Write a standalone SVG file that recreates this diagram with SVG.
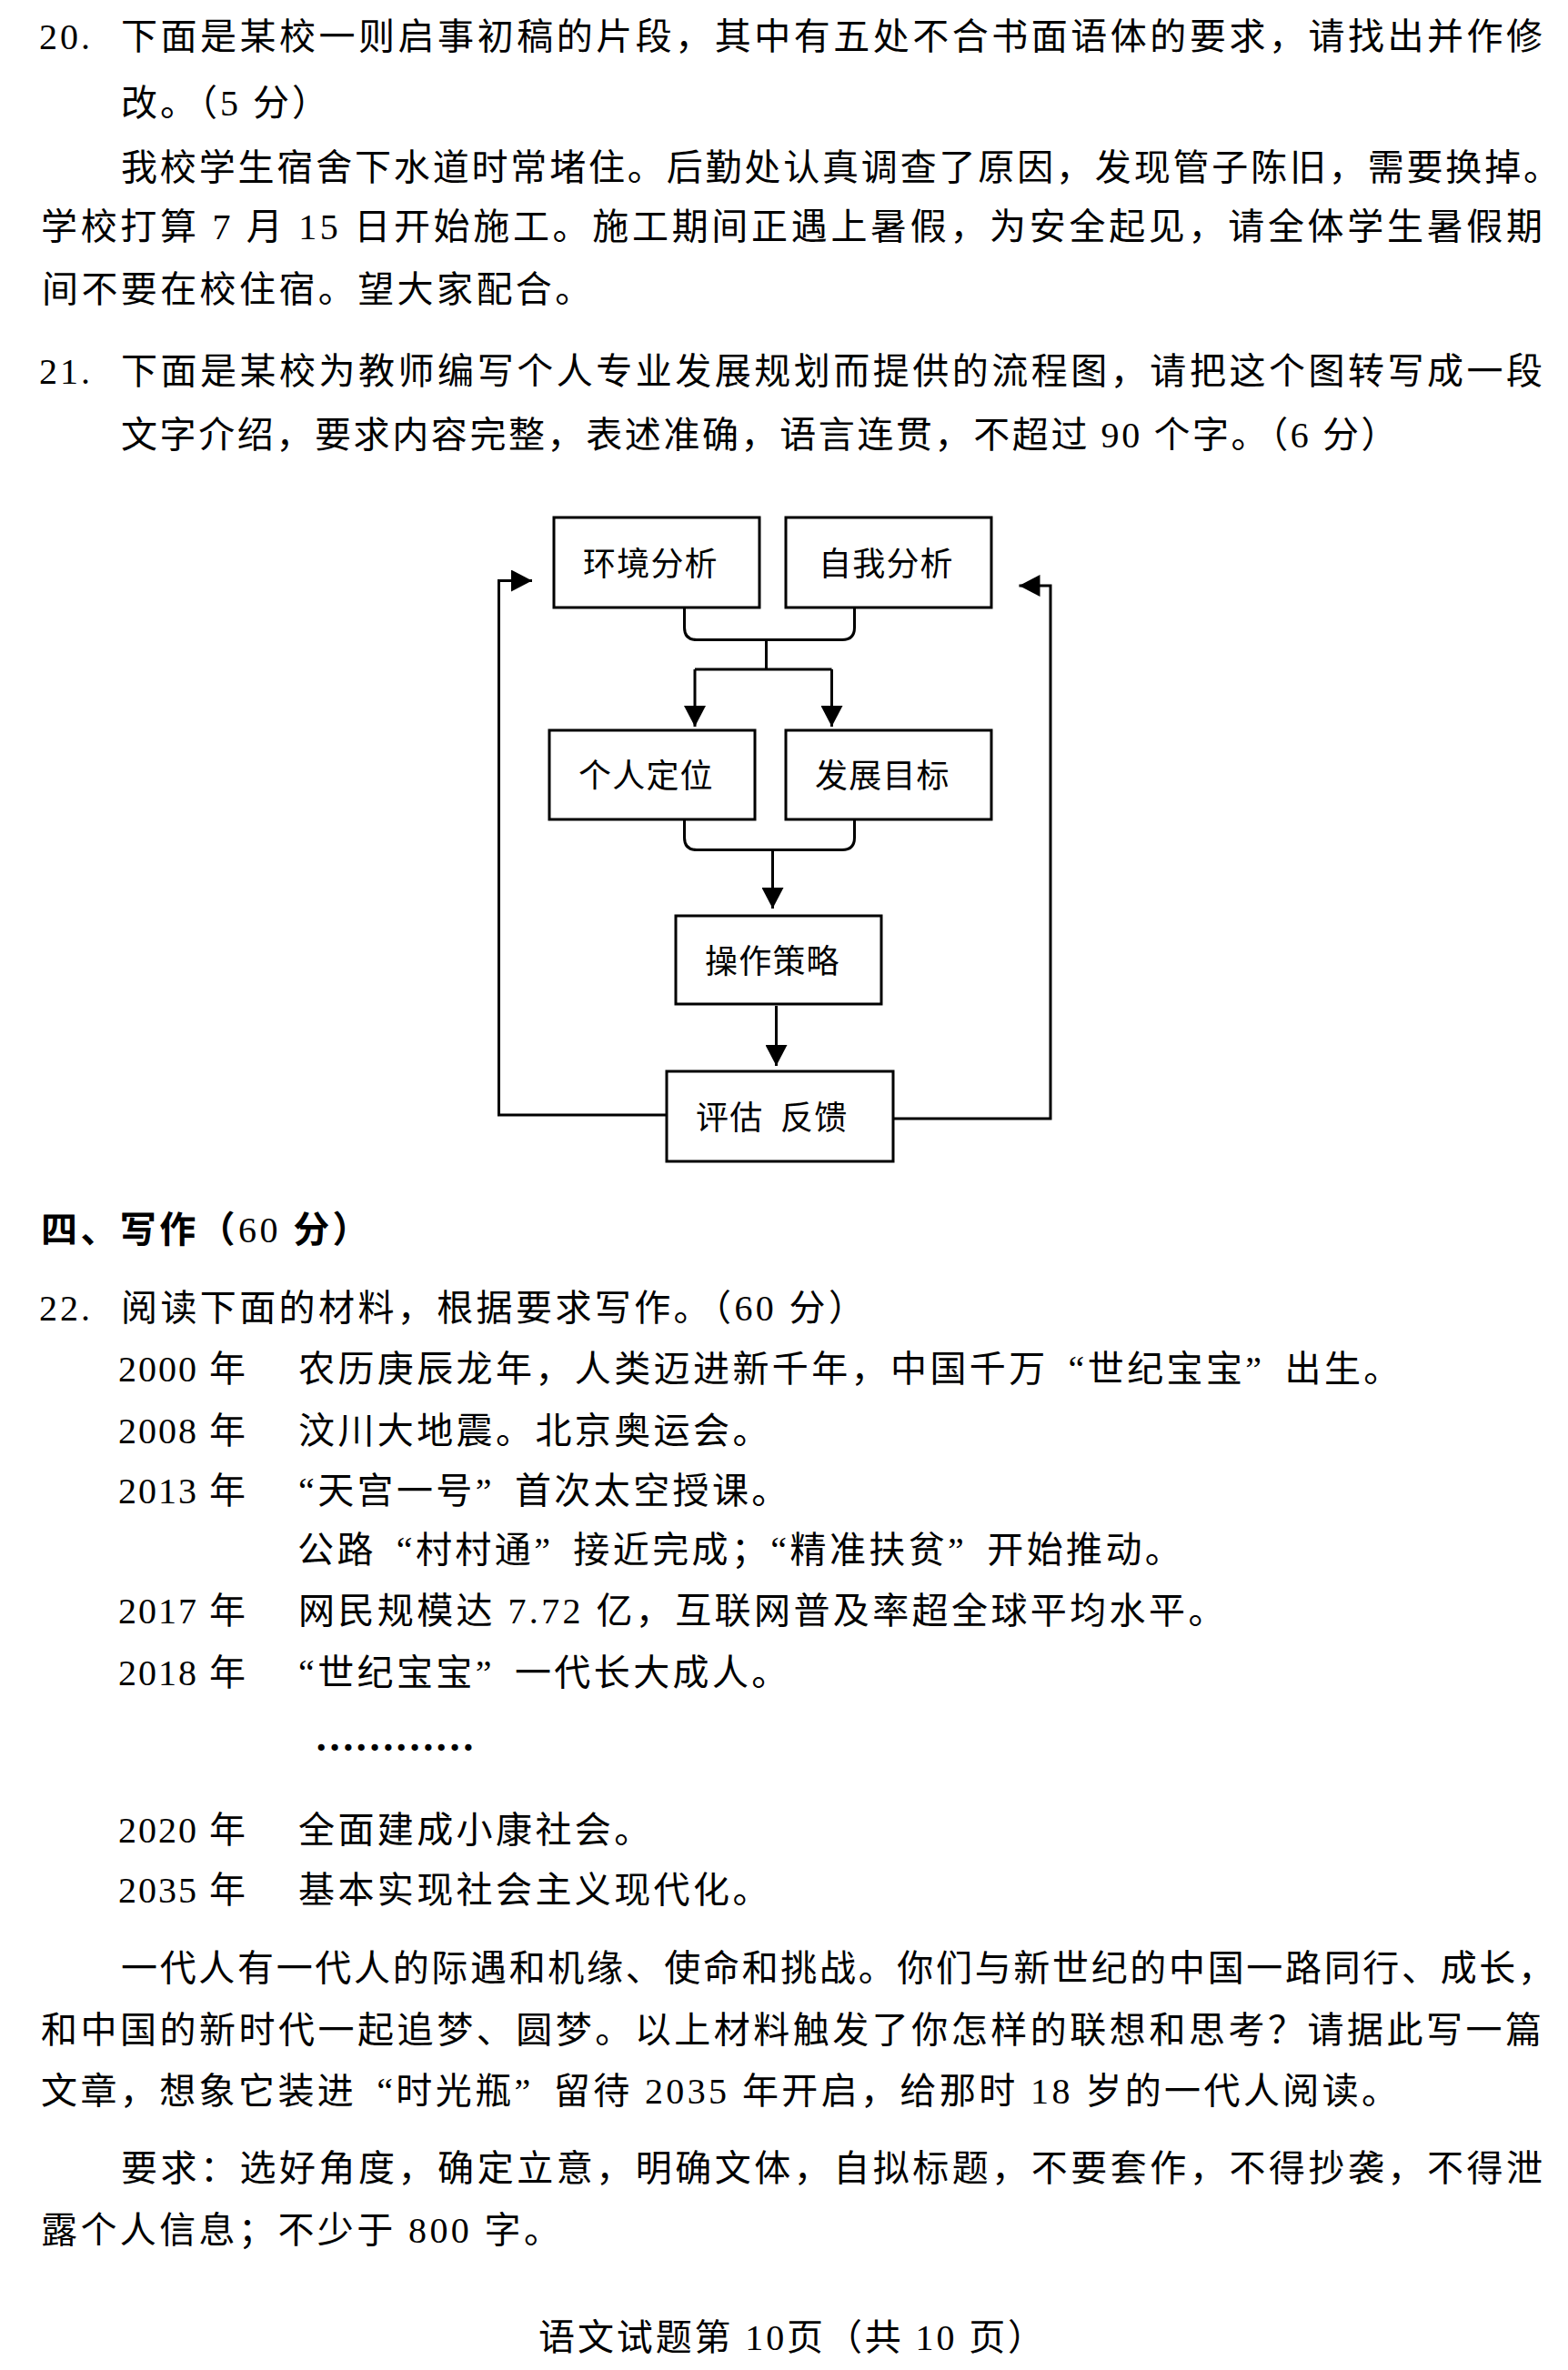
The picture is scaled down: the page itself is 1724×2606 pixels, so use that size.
<svg xmlns="http://www.w3.org/2000/svg" width="1724" height="2606" viewBox="0 0 1724 2606">
<style>
.t{font-family:"Liberation Serif","Noto Sans CJK SC",serif;font-size:40px;fill:#000}
.c{letter-spacing:3.4px}
.n{letter-spacing:3px}
.d{letter-spacing:2px}
.lbl{font-family:"Noto Sans CJK SC",sans-serif;font-size:36px;letter-spacing:1.2px;fill:#000}
.box{fill:#fff;stroke:#000;stroke-width:3}
.conn{fill:none;stroke:#000;stroke-width:3}
.dots{font-family:"Liberation Serif",serif;font-size:44px;font-weight:bold;fill:#000}
</style>
<defs>
<marker id="ah" markerUnits="userSpaceOnUse" markerWidth="24" markerHeight="24" viewBox="0 0 24 24" refX="23" refY="12" orient="auto">
<path d="M0,0 L23,12 L0,24 z" fill="#000"/>
</marker>
</defs>
<rect x="0" y="0" width="1724" height="2606" fill="#fff"/>

<g id="q20">
<text class="t n" x="43" y="54">20.</text>
<text class="t" x="133" y="54" textLength="1563" lengthAdjust="spacing">下面是某校一则启事初稿的片段，其中有五处不合书面语体的要求，请找出并作修</text>
<text class="t n" x="133" y="127">改。（5 分）</text>
<text class="t" x="133" y="198" textLength="1582" lengthAdjust="spacing">我校学生宿舍下水道时常堵住。后勤处认真调查了原因，发现管子陈旧，需要换掉。</text>
<text class="t" x="45" y="263" textLength="1651" lengthAdjust="spacing">学校打算 7 月 15 日开始施工。施工期间正遇上暑假，为安全起见，请全体学生暑假期</text>
<text class="t c" x="46" y="332">间不要在校住宿。望大家配合。</text>
</g>

<g id="q21">
<text class="t n" x="43" y="422">21.</text>
<text class="t" x="133" y="422" textLength="1563" lengthAdjust="spacing">下面是某校为教师编写个人专业发展规划而提供的流程图，请把这个图转写成一段</text>
<text class="t" x="133" y="492" style="letter-spacing:2.6px">文字介绍，要求内容完整，表述准确，语言连贯，不超过 90 个字。（6 分）</text>
</g>

<g id="flowchart">
<g id="node-env"><rect class="box" x="609" y="569" width="226" height="99"/><text class="lbl" x="641" y="633">环境分析</text></g>
<g id="node-self"><rect class="box" x="864" y="569" width="226" height="99"/><text class="lbl" x="900" y="633">自我分析</text></g>
<g id="node-pos"><rect class="box" x="604" y="803" width="226" height="98"/><text class="lbl" x="636" y="866">个人定位</text></g>
<g id="node-goal"><rect class="box" x="864" y="803" width="226" height="98"/><text class="lbl" x="896" y="866">发展目标</text></g>
<g id="node-strategy"><rect class="box" x="743" y="1007" width="226" height="97"/><text class="lbl" x="775" y="1070">操作策略</text></g>
<g id="node-eval"><rect class="box" x="733" y="1178" width="249" height="99"/><text class="lbl" x="765" y="1242">评估</text><text class="lbl" x="858" y="1242">反馈</text></g>
</g>

<g id="connectors" class="conn">
<path d="M752.5,669 V690 Q752.5,703.5 766,703.5 H926 Q939.5,703.5 939.5,690 V669"/>
<path d="M842.5,703.5 V736"/>
<path d="M764,736 H914.5"/>
<path d="M764,736 V799" marker-end="url(#ah)"/>
<path d="M914.5,736 V799" marker-end="url(#ah)"/>
<path d="M752.5,901 V921 Q752.5,934.5 766,934.5 H926 Q939.5,934.5 939.5,921 V901"/>
<path d="M849.5,934.5 V999" marker-end="url(#ah)"/>
<path d="M853.5,1106 V1172" marker-end="url(#ah)"/>
<path d="M733,1226 H548.5 V638.5 H585" marker-end="url(#ah)"/>
<path d="M982,1230 H1155 V644 H1120.5" marker-end="url(#ah)"/>
</g>

<g id="section4">
<text class="t c" x="45" y="1366"><tspan font-weight="bold">四、写作（</tspan>60 <tspan font-weight="bold">分）</tspan></text>
</g>

<g id="q22">
<text class="t n" x="43" y="1452">22.</text>
<text class="t c" x="133" y="1452">阅读下面的材料，根据要求写作。（60 分）</text>

<text class="t d" x="130" y="1519">2000 年</text>
<text class="t c" x="328" y="1519">农历庚辰龙年，人类迈进新千年，中国千万<tspan dx="22">“</tspan>世纪宝宝”<tspan dx="22">出</tspan>生。</text>

<text class="t d" x="130" y="1587">2008 年</text>
<text class="t c" x="328" y="1587">汶川大地震。北京奥运会。</text>

<text class="t d" x="130" y="1653">2013 年</text>
<text class="t c" x="328" y="1653">“天宫一号”<tspan dx="22">首</tspan>次太空授课。</text>
<text class="t c" x="327" y="1718">公路<tspan dx="22">“</tspan>村村通”<tspan dx="22">接</tspan>近完成；“精准扶贫”<tspan dx="22">开</tspan>始推动。</text>

<text class="t d" x="130" y="1785">2017 年</text>
<text class="t c" x="328" y="1785">网民规模达 7.72 亿，互联网普及率超全球平均水平。</text>

<text class="t d" x="130" y="1853">2018 年</text>
<text class="t c" x="328" y="1853">“世纪宝宝”<tspan dx="22">一</tspan>代长大成人。</text>

<text class="dots" x="346" y="1925">…………</text>

<text class="t d" x="130" y="2026">2020 年</text>
<text class="t c" x="328" y="2026">全面建成小康社会。</text>

<text class="t d" x="130" y="2092">2035 年</text>
<text class="t c" x="328" y="2092">基本实现社会主义现代化。</text>

<text class="t" x="133" y="2178" textLength="1576" lengthAdjust="spacing">一代人有一代人的际遇和机缘、使命和挑战。你们与新世纪的中国一路同行、成长，</text>
<text class="t" x="45" y="2246" textLength="1650" lengthAdjust="spacing">和中国的新时代一起追梦、圆梦。以上材料触发了你怎样的联想和思考？请据此写一篇</text>
<text class="t c" x="45" y="2313">文章，想象它装进<tspan dx="22">“</tspan>时光瓶”<tspan dx="22">留</tspan>待 2035 年开启，给那时 18 岁的一代人阅读。</text>

<text class="t" x="133" y="2398" textLength="1563" lengthAdjust="spacing">要求：选好角度，确定立意，明确文体，自拟标题，不要套作，不得抄袭，不得泄</text>
<text class="t c" x="45" y="2466">露个人信息；不少于 800 字。</text>
</g>

<g id="footer">
<text class="t" x="592" y="2584" textLength="556" lengthAdjust="spacing">语文试题第 10页（共 10 页）</text>
</g>
</svg>
